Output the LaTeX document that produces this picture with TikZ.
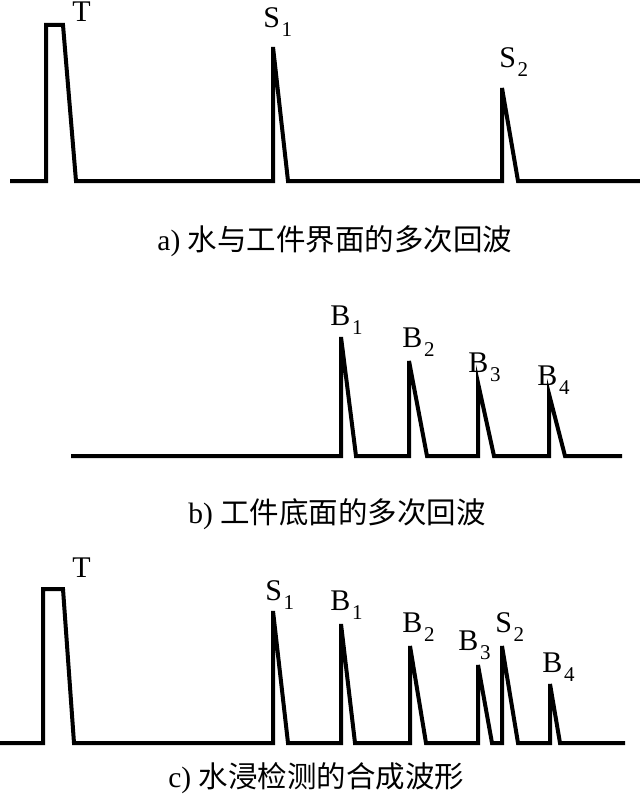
\documentclass[tikz,border=0pt]{standalone}
\usepackage{fontspec}
\setmainfont{Liberation Serif}
\newfontfamily\cjk{Noto Sans CJK SC}

\newcommand{\peaksub}[1]{\kern0.8pt\raisebox{-4.5pt}{\fontsize{10.5pt}{12pt}\selectfont #1}}

\tikzset{
  wave/.style={line width=2pt},
  peaklabel/.style={anchor=base west, inner sep=0pt, font=\fontsize{15pt}{17pt}\selectfont},
  caption/.style={anchor=base west, inner sep=0pt, font=\fontsize{14.75pt}{17pt}\selectfont}
}

\begin{document}
\begin{tikzpicture}[x=0.5pt,y=-0.5pt]

\useasboundingbox (0,0) rectangle (640,797);

% a) interface echoes
\draw[wave] (10,181) -- (46,181) -- (46,25) -- (63,25) -- (76,181)
  -- (273,181) -- (273,47) -- (288,181)
  -- (502,181) -- (502,88) -- (518,181) -- (640,181);

\node[peaklabel] (Ta) at (72,22) {T};
\node[peaklabel] (S1a) at (263,28) {S\peaksub{1}};
\node[peaklabel] (S2a) at (499,68) {S\peaksub{2}};

\node[caption] (capa) at (157,250) {a) {\cjk 水与工件界面的多次回波}};

% b) bottom echoes
\draw[wave] (71,456) -- (341,456) -- (341,337) -- (356,456)
  -- (409,456) -- (409,361) -- (427,456)
  -- (478,456) -- (478,383) -- (494,456)
  -- (549,456) -- (549,394) -- (565,456) -- (622,456);

\node[peaklabel] (B1b) at (330,325) {B\peaksub{1}};
\node[peaklabel] (B2b) at (402,347) {B\peaksub{2}};
\node[peaklabel] (B3b) at (468,372) {B\peaksub{3}};
\node[peaklabel] (B4b) at (537,385) {B\peaksub{4}};

\node[caption] (capb) at (188,523) {b) {\cjk 工件底面的多次回波}};

% c) combined waveform
\draw[wave] (0,743) -- (43,743) -- (43,589) -- (63,589) -- (74,743)
  -- (273,743) -- (273,611) -- (288,743)
  -- (341,743) -- (341,624) -- (355,743)
  -- (410,743) -- (410,646) -- (426,743)
  -- (478,743) -- (478,665) -- (492,743)
  -- (502,743) -- (502,646) -- (518,743)
  -- (550,743) -- (550,684) -- (560,743) -- (625,743);

\node[peaklabel] (Tc) at (72,577) {T};
\node[peaklabel] (S1c) at (265,600) {S\peaksub{1}};
\node[peaklabel] (B1c) at (330,610) {B\peaksub{1}};
\node[peaklabel] (B2c) at (402,632) {B\peaksub{2}};
\node[peaklabel] (B3c) at (458,650) {B\peaksub{3}};
\node[peaklabel] (S2c) at (495,632) {S\peaksub{2}};
\node[peaklabel] (B4c) at (542,672) {B\peaksub{4}};

\node[caption] (capc) at (168,787) {c) {\cjk 水浸检测的合成波形}};

\end{tikzpicture}
\end{document}
